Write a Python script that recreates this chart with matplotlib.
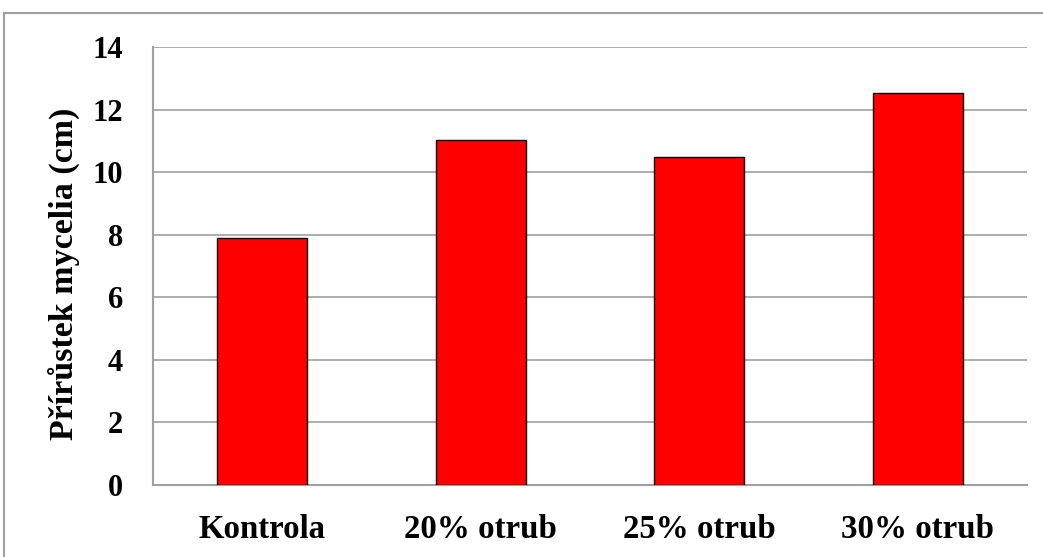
import matplotlib
matplotlib.use("Agg")
import matplotlib.pyplot as plt
from matplotlib.patches import Rectangle

categories = ["Kontrola", "20% otrub", "25% otrub", "30% otrub"]
values = [7.9, 11.03, 10.48, 12.53]
yticks = [0, 2, 4, 6, 8, 10, 12, 14]
ylabel = "Přírůstek mycelia (cm)"

W, H = 1043, 557
fig = plt.figure(figsize=(W / 100, H / 100), dpi=100)
plt.rcParams['font.family'] = ['Liberation Serif', 'DejaVu Serif']

# outer frame (only left and top edges fall inside the picture)
frame_top = (H - 13) / H
fig.patches.append(Rectangle((4 / W, -0.2), 1.2, frame_top + 0.2, transform=fig.transFigure,
                             fill=False, edgecolor='#a0a0a0', linewidth=1.5))

left, right, top, bottom = 153, 1027, 47, 485
ax = fig.add_axes([left / W, 1 - bottom / H, (right - left) / W, (bottom - top) / H])
x = range(len(categories))
ax.bar(x, values, width=0.41, color='#ff0000', edgecolor='black', linewidth=1.0, zorder=3)
ax.set_xlim(-0.5, len(categories) - 0.5)
ax.set_ylim(0, 14)
ax.set_yticks(yticks)
ax.set_yticklabels([str(v) for v in yticks], fontsize=22, fontweight='bold')
ax.set_xticks(list(x))
ax.set_xticklabels(categories, fontsize=23.7, fontweight='bold')
ax.tick_params(axis='both', length=0)
ax.tick_params(axis='y', pad=21.5)
ax.tick_params(axis='x', pad=21)
ax.grid(axis='y', color='#a0a0a0', linewidth=1.2, zorder=0)
for s in ['top', 'right']:
    ax.spines[s].set_visible(False)
for s in ['left', 'bottom']:
    ax.spines[s].set_color('#a0a0a0')
    ax.spines[s].set_linewidth(1.5)
ax.set_ylabel(ylabel, fontsize=24.5, fontweight='bold')
ax.yaxis.set_label_coords(-0.0835, 0.482)

fig.savefig("out.png", dpi=100)
